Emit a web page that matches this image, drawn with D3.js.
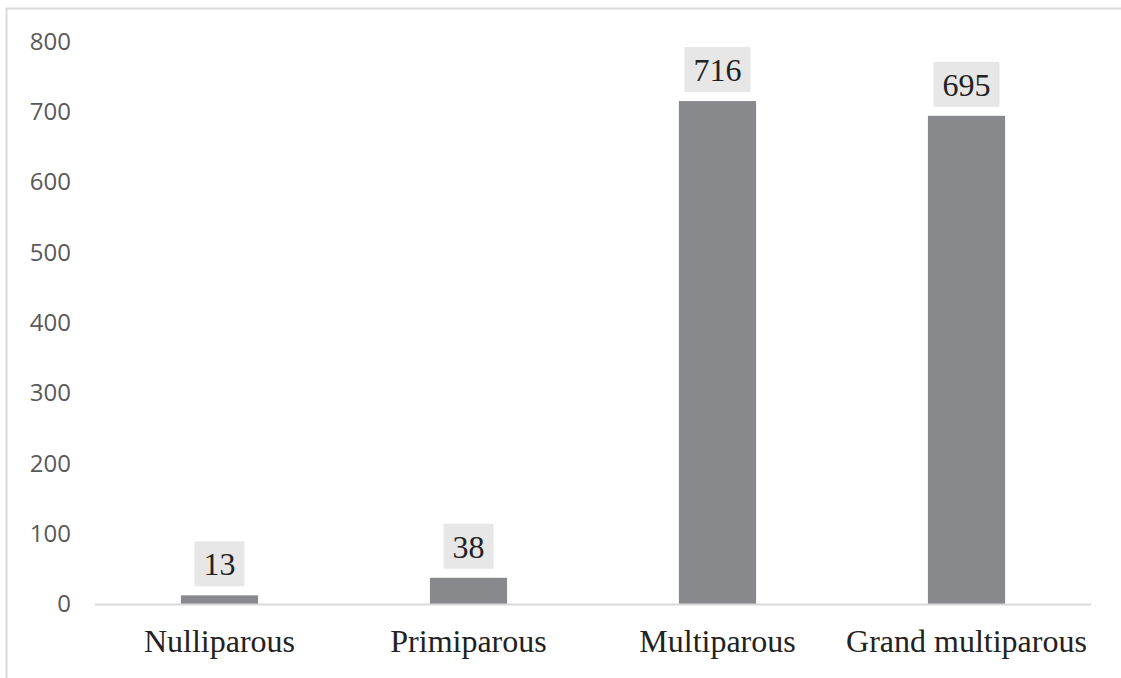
<!DOCTYPE html>
<html><head><meta charset="utf-8">
<script src="https://cdn.jsdelivr.net/npm/d3@7"></script>
<style>body{margin:0;background:#fff;overflow:hidden}</style>
</head><body>
<svg id="c" width="1121" height="678"></svg>
<script>
const categories = ["Nulliparous", "Primiparous", "Multiparous", "Grand multiparous"];
const values = [13, 38, 716, 695];
const yTicks = [0, 100, 200, 300, 400, 500, 600, 700, 800];

const svg = d3.select("#c");
// outer frame
svg.append("rect").attr("x", 6.5).attr("y", 8.5).attr("width", 1130).attr("height", 700)
  .attr("fill", "none").attr("stroke", "#d9d9d9").attr("stroke-width", 2);

const x = d3.scaleBand().domain(categories).range([95, 1091]).paddingInner(0.69).paddingOuter(0.345);
const y = d3.scaleLinear().domain([0, 800]).range([604.5, 42]);

const yAxis = svg.append("g").attr("transform", "translate(71,0)")
  .call(d3.axisLeft(y).tickValues(yTicks).tickSize(0).tickPadding(0));
yAxis.select(".domain").remove();
yAxis.selectAll("text").attr("font-family", "'Open Sans', 'Liberation Sans', sans-serif")
  .attr("font-size", 24).attr("fill", "#595959").attr("dy", "0.3em");

svg.selectAll("rect.bar").data(values).enter().append("rect").attr("class", "bar")
  .attr("x", (d, i) => x(categories[i])).attr("width", x.bandwidth())
  .attr("y", d => y(d)).attr("height", d => y(0) - y(d)).attr("fill", "#88898c");

svg.append("line").attr("x1", 95).attr("x2", 1091).attr("y1", 604.5).attr("y2", 604.5)
  .attr("stroke", "#d9d9d9").attr("stroke-width", 2);

const xAxis = svg.append("g").attr("transform", "translate(0,652)")
  .call(d3.axisBottom(x).tickSize(0).tickPadding(0));
xAxis.select(".domain").remove();
xAxis.selectAll("text").attr("font-family", "'Liberation Serif', 'Times New Roman', serif")
  .attr("font-size", 32).attr("fill", "#222").attr("dy", 0);

const lbl = svg.append("g");
values.forEach((v, i) => {
  const cx = x(categories[i]) + x.bandwidth() / 2;
  const t = String(v);
  const w = t.length * 16 + 18;
  const bottom = y(v) - 9;
  lbl.append("rect").attr("x", cx - w / 2).attr("y", bottom - 45).attr("width", w).attr("height", 45)
    .attr("fill", "#e7e7e8");
  lbl.append("text").attr("x", cx).attr("y", bottom - 11).attr("text-anchor", "middle")
    .attr("font-family", "'Liberation Serif', 'Times New Roman', serif").attr("font-size", 32)
    .attr("fill", "#222").text(t);
});
</script>
</body></html>
